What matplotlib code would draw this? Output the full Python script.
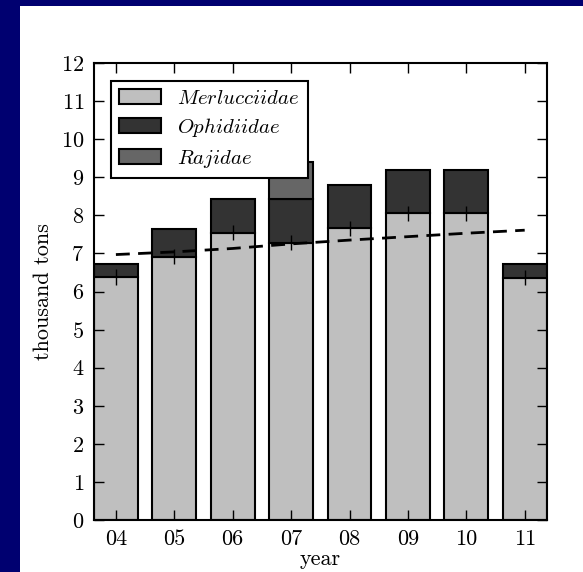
import numpy as np
import matplotlib
matplotlib.use('Agg')
import matplotlib.pyplot as plt
from matplotlib.patches import Rectangle

plt.rcParams['font.family'] = 'serif'
plt.rcParams['font.serif'] = ['cmr10']
plt.rcParams['mathtext.fontset'] = 'cm'
plt.rcParams['axes.formatter.use_mathtext'] = True

# catch data (thousand tons)
years = ['04', '05', '06', '07', '08', '09', '10', '11']
merlucciidae = [6.38, 6.91, 7.54, 7.28, 7.66, 8.05, 8.05, 6.36]
merl_err = [0.2, 0.2, 0.2, 0.2, 0.2, 0.2, 0.2, 0.2]
ophidiidae = [0.35, 0.72, 0.90, 1.16, 1.13, 1.13, 1.14, 0.35]
rajidae = [0, 0, 0, 0.96, 0, 0, 0, 0]
trend = [6.97, 7.04, 7.13, 7.25, 7.35, 7.44, 7.53, 7.61]

W, H = 583, 572
fig = plt.figure(figsize=(W / 100, H / 100), dpi=100, facecolor='#000070')
fig.patches.append(Rectangle((20 / W, 0), 1, (H - 6) / H, transform=fig.transFigure,
                             facecolor='white', edgecolor='none', zorder=-10))
ax = fig.add_axes([94 / W, (H - 520) / H, 452.6 / W, 457 / H])
ax.set_zorder(1)

x = np.arange(len(years))
bw = 0.75
merl = np.array(merlucciidae)
oph = np.array(ophidiidae)
raj = np.array(rajidae)

ax.bar(x, merl, width=bw, color='#bfbfbf', edgecolor='k', linewidth=1.5,
       label=r'$\it{Merlucciidae}$')
ax.bar(x, oph, width=bw, bottom=merl, color='#333333', edgecolor='k', linewidth=1.5,
       label=r'$\it{Ophidiidae}$')
keep = raj > 0
ax.bar(x[keep], raj[keep], width=bw, bottom=(merl + oph)[keep], color='#666666',
       edgecolor='k', linewidth=1.5, label=r'$\it{Rajidae}$')
ax.errorbar(x, merl, yerr=merl_err, fmt='none', ecolor='k', elinewidth=1, capsize=0, zorder=4)
ax.plot(x, trend, color='k', linestyle='--', linewidth=2, dashes=(5, 3), zorder=5)

ax.set_xlim(-0.375, len(years) - 1 + 0.375)
ax.set_ylim(0, 12)
ax.set_yticks(range(0, 13))
ax.set_xticks(x)
ax.set_xticklabels(years)
ax.tick_params(direction='in', length=7, width=1, top=True, right=True,
               labelsize=16, pad=7)
for s in ax.spines.values():
    s.set_linewidth(1.5)
ax.set_xlabel('year', fontsize=16, labelpad=0)
ax.set_ylabel('thousand tons', fontsize=16, labelpad=6)

leg = ax.legend(loc='upper left', bbox_to_anchor=(0.037, 0.961), borderaxespad=0,
                fontsize=15, fancybox=False, framealpha=1, edgecolor='k',
                handlelength=2.0, handleheight=0.72, borderpad=0.4, labelspacing=0.4,
                handletextpad=0.8)
leg.get_frame().set_linewidth(1.5)

fig.savefig('out.png', dpi=100, facecolor=fig.get_facecolor())
